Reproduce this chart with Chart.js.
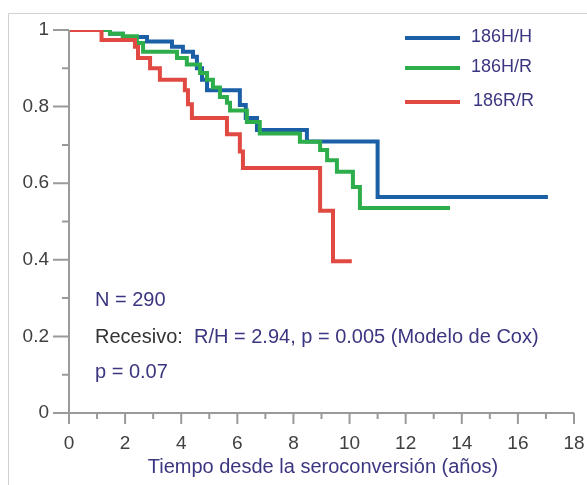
<!DOCTYPE html>
<html>
<head>
<meta charset="utf-8">
<script src="https://cdn.jsdelivr.net/npm/chart.js@4"></script>
<style>
  html, body { margin: 0; padding: 0; background: #fff; }
  #wrap { width: 587px; height: 485px; position: relative; }
</style>
</head>
<body>
<div id="wrap"><canvas id="km" width="587" height="485"></canvas></div>
<script>
// Kaplan-Meier steps: time (años) of each drop and survival after it
const hhTimes = [0, 1.46, 1.92, 2.78, 3.67, 4.06, 4.42, 4.56, 4.74, 4.92, 6.09, 6.3, 6.7, 8.48, 11.0, 17.07];
const hhSurv  = [1, 0.99, 0.982, 0.97, 0.956, 0.943, 0.93, 0.90, 0.87, 0.843, 0.804, 0.77, 0.739, 0.709, 0.564, 0.564];

const hrTimes = [0, 1.46, 1.92, 2.42, 2.64, 3.85, 4.2, 4.67, 4.92, 5.13, 5.38, 5.63, 5.74, 6.34, 6.8, 8.23, 8.95, 9.2, 9.55, 10.12, 10.37, 13.58];
const hrSurv  = [1, 0.99, 0.984, 0.966, 0.943, 0.927, 0.91, 0.888, 0.87, 0.85, 0.825, 0.81, 0.79, 0.76, 0.73, 0.708, 0.687, 0.66, 0.63, 0.59, 0.535, 0.535];

const rrTimes = [0, 1.16, 2.35, 2.46, 2.89, 3.24, 4.13, 4.24, 4.38, 5.63, 6.09, 6.2, 8.95, 9.41, 10.08];
const rrSurv  = [1, 0.974, 0.956, 0.927, 0.90, 0.87, 0.843, 0.806, 0.77, 0.728, 0.683, 0.64, 0.528, 0.396, 0.396];

const groupLabels = ['186H/H', '186H/R', '186R/R'];
const groupColors = ['#1b5fa6', '#2eae4b', '#e04a43'];

const xTicks = [0, 2, 4, 6, 8, 10, 12, 14, 16, 18];
const yTicks = [0, 0.2, 0.4, 0.6, 0.8, 1];

const notes = ['N = 290', 'Recesivo:', 'R/H = 2.94, p = 0.005 (Modelo de Cox)', 'p = 0.07'];
const xTitle = 'Tiempo desde la seroconversión (años)';

const toPoints = (xs, ys) => xs.map((x, i) => ({ x: x, y: ys[i] }));

const navy = '#3b3680';
const axisGray = '#9a9a9a';
const font = 'Arial, "Liberation Sans", sans-serif';

// axes, ticks, legend and notes drawn by hand so the look follows the figure
const decor = {
  id: 'decor',
  beforeDraw(chart) {
    const ctx = chart.ctx;
    ctx.save();
    ctx.fillStyle = '#fff';
    ctx.fillRect(0, 0, chart.width, chart.height);
    // outer frame (only left and top visible)
    ctx.strokeStyle = '#d0d0d0';
    ctx.lineWidth = 1;
    ctx.beginPath();
    ctx.moveTo(8.5, chart.height);
    ctx.lineTo(8.5, 13.5);
    ctx.lineTo(chart.width, 13.5);
    ctx.stroke();
    ctx.restore();
  },
  afterDraw(chart) {
    const ctx = chart.ctx;
    const xs = chart.scales.x, ys = chart.scales.y;
    const x0 = xs.getPixelForValue(0), x18 = xs.getPixelForValue(18);
    const y0 = ys.getPixelForValue(0), y1 = ys.getPixelForValue(1);
    ctx.save();
    ctx.strokeStyle = axisGray;
    ctx.lineWidth = 2;
    ctx.beginPath();
    ctx.moveTo(x0, y0); ctx.lineTo(x0, y1);
    ctx.moveTo(x0, y0); ctx.lineTo(x18, y0);
    for (let v = 0; v <= 18; v++) {
      const px = xs.getPixelForValue(v);
      ctx.moveTo(px, y0); ctx.lineTo(px, y0 + (v % 2 === 0 ? 11 : 6));
    }
    for (let k = 0; k <= 10; k++) {
      const py = ys.getPixelForValue(k / 10);
      ctx.moveTo(x0, py); ctx.lineTo(x0 - (k % 2 === 0 ? 16 : 7), py);
    }
    ctx.stroke();

    ctx.fillStyle = '#404040';
    ctx.font = '19px ' + font;
    ctx.textAlign = 'center';
    ctx.textBaseline = 'middle';
    xTicks.forEach(v => ctx.fillText(String(v), xs.getPixelForValue(v), 444));
    ctx.textAlign = 'right';
    yTicks.forEach(v => ctx.fillText(String(v), 49, ys.getPixelForValue(v)));

    ctx.fillStyle = navy;
    ctx.font = '20px ' + font;
    ctx.textAlign = 'center';
    ctx.fillText(xTitle, 323, 467);

    // legend
    const legY = [38, 68, 102];
    ctx.lineWidth = 4;
    ctx.font = '18px ' + font;
    ctx.textAlign = 'left';
    groupLabels.forEach((lab, i) => {
      ctx.strokeStyle = groupColors[i];
      ctx.beginPath();
      ctx.moveTo(405, legY[i]); ctx.lineTo(460, legY[i]);
      ctx.stroke();
      ctx.fillStyle = navy;
      ctx.fillText(lab, i === 2 ? 473 : 471, legY[i] - 1);
    });

    // notes
    ctx.font = '20px ' + font;
    ctx.fillStyle = navy;
    ctx.fillText(notes[0], 95, 300);
    ctx.fillStyle = '#333';
    ctx.fillText(notes[1], 95, 337);
    ctx.fillStyle = navy;
    ctx.fillText(notes[2], 194, 337);
    ctx.fillText(notes[3], 95, 372);
    ctx.restore();
  }
};

new Chart(document.getElementById('km'), {
  type: 'line',
  data: {
    datasets: [
      { label: groupLabels[2], data: toPoints(rrTimes, rrSurv), borderColor: groupColors[2] },
      { label: groupLabels[1], data: toPoints(hrTimes, hrSurv), borderColor: groupColors[1] },
      { label: groupLabels[0], data: toPoints(hhTimes, hhSurv), borderColor: groupColors[0] }
    ].map(d => Object.assign(d, { stepped: 'before', borderWidth: 4, pointRadius: 0, fill: false, borderCapStyle: 'butt' }))
  },
  options: {
    responsive: false,
    animation: false,
    layout: { padding: { top: 30, right: 13, left: 0, bottom: 0 } },
    plugins: { legend: { display: false }, tooltip: { enabled: false } },
    scales: {
      x: {
        type: 'linear', min: 0, max: 18,
        grid: { display: false, drawTicks: false },
        border: { display: false },
        ticks: { display: false },
        afterFit(s) { s.height = 72; }
      },
      y: {
        min: 0, max: 1,
        grid: { display: false, drawTicks: false },
        border: { display: false },
        ticks: { display: false },
        afterFit(s) { s.width = 69; }
      }
    }
  },
  plugins: [decor]
});
</script>
</body>
</html>
